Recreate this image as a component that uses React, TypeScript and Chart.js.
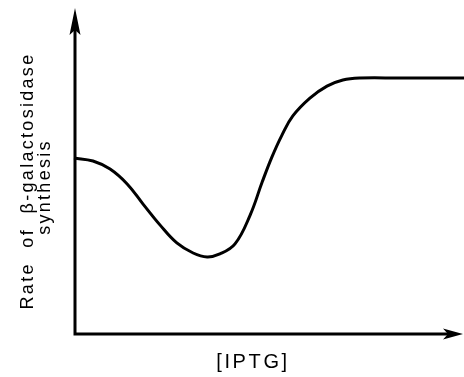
import React, { useEffect, useRef } from "react";
import { Chart, registerables } from "chart.js";

Chart.register(...registerables);

// [IPTG] (arbitrary units, 0-100)
const iptg = [0, 4.9, 9.3, 13.7, 17.8, 22.2, 26.5, 30.7, 34.3, 37.6, 41.5, 45.4, 48.5, 51.0, 53.6, 56.4, 60.8, 65.2, 69.3, 73.7, 84.0, 100.6];
// rate of beta-galactosidase synthesis (arbitrary units, 0-100)
const rate = [54.3, 53.4, 50.9, 46.3, 40.1, 33.6, 28.1, 25.0, 23.8, 24.7, 27.8, 36.7, 46.9, 54.6, 61.4, 67.3, 72.8, 76.5, 78.4, 79.0, 79.0, 79.0];

const yTitleLines = ["Rate  of  β-galactosidase", "synthesis"];
const xTitle = "[IPTG]";

const axesPlugin = {
  id: "arrowAxes",
  afterDraw(chart: any) {
    const ctx = chart.ctx as CanvasRenderingContext2D;
    const { left, right, top, bottom } = chart.chartArea;
    const ax = left + 1;
    ctx.save();
    ctx.strokeStyle = "#000";
    ctx.fillStyle = "#000";
    ctx.lineWidth = 3;
    ctx.beginPath();
    ctx.moveTo(ax, bottom + 1.5);
    ctx.lineTo(ax, top + 20);
    ctx.moveTo(ax - 1.5, bottom);
    ctx.lineTo(right - 12, bottom);
    ctx.stroke();
    // top arrow
    ctx.beginPath();
    ctx.moveTo(ax, top - 2);
    ctx.lineTo(ax - 5.5, top + 25);
    ctx.lineTo(ax, top + 20);
    ctx.lineTo(ax + 5.5, top + 25);
    ctx.closePath();
    ctx.fill();
    // right arrow
    ctx.beginPath();
    ctx.moveTo(right + 1, bottom);
    ctx.lineTo(right - 19, bottom - 5.5);
    ctx.lineTo(right - 14, bottom);
    ctx.lineTo(right - 19, bottom + 5.5);
    ctx.closePath();
    ctx.fill();

    // titles
    ctx.textAlign = "center";
    ctx.textBaseline = "middle";
    ctx.font = "20px 'Liberation Sans', Arial, sans-serif";
    (ctx as any).letterSpacing = "2.6px";
    ctx.fillText(xTitle, 253, 362);
    ctx.font = "18px 'Liberation Sans', Arial, sans-serif";
    (ctx as any).letterSpacing = "2.3px";
    ctx.translate(28, 181);
    ctx.rotate(-Math.PI / 2);
    ctx.fillText(yTitleLines[0], 0, 0);
    ctx.fillText(yTitleLines[1], -6, 17);
    ctx.restore();
  },
};

export default function App() {
  const ref = useRef<HTMLCanvasElement>(null);
  useEffect(() => {
    if (!ref.current) return;
    const chart = new Chart(ref.current, {
      type: "line",
      data: {
        datasets: [
          {
            data: iptg.map((x, i) => ({ x, y: rate[i] })),
            borderColor: "#000",
            borderWidth: 3,
            pointRadius: 0,
            tension: 0.4,
            fill: false,
            clip: false as any,
          },
        ],
      },
      options: {
        animation: false,
        responsive: false,
        layout: { padding: { left: 74, right: 2, top: 10, bottom: 43 } },
        plugins: { legend: { display: false }, tooltip: { enabled: false } },
        scales: {
          x: { type: "linear", min: 0, max: 100, display: false },
          y: { type: "linear", min: 0, max: 100, display: false },
        },
      },
      plugins: [axesPlugin],
    });
    return () => chart.destroy();
  }, []);
  return (
    <div style={{ position: "fixed", left: 0, top: 0, width: 464, height: 377, background: "#fff" }}>
      <canvas ref={ref} width={464} height={377} />
    </div>
  );
}
